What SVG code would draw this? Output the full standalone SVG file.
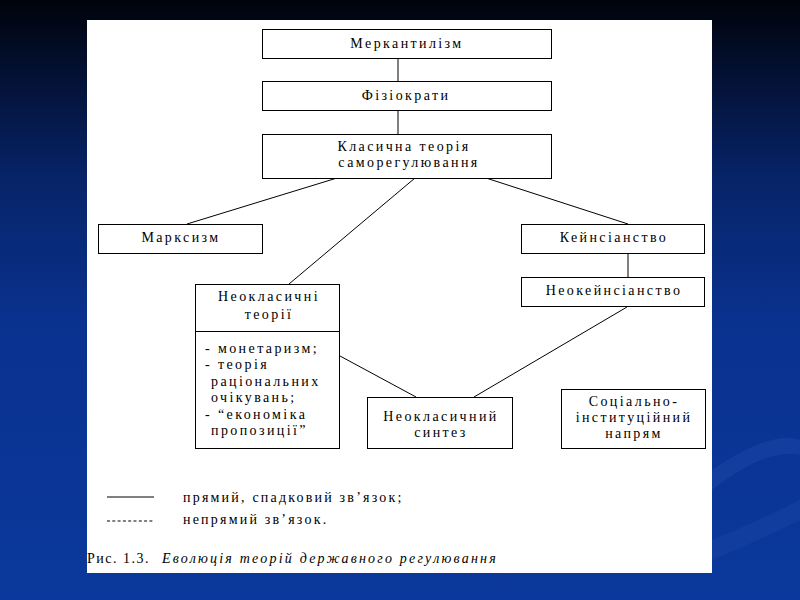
<svg xmlns="http://www.w3.org/2000/svg" width="800" height="600" viewBox="0 0 800 600">
<defs>
<linearGradient id="bg" x1="0" y1="0" x2="0" y2="1">
<stop offset="0" stop-color="#01030b"/>
<stop offset="0.1" stop-color="#030e2c"/>
<stop offset="0.3" stop-color="#072469"/>
<stop offset="0.55" stop-color="#0a3290"/>
<stop offset="1" stop-color="#0b389c"/>
</linearGradient>
<style>
.box{fill:#fff;stroke:#000;stroke-width:1}
.ln{stroke:#000;stroke-width:1;fill:none}
.t{font-family:"Liberation Serif","Times New Roman",serif;font-size:14px;letter-spacing:2.4px;fill:#000}
.c{text-anchor:middle}
.it{font-style:italic}
</style>
</defs>
<rect x="0" y="0" width="800" height="600" fill="url(#bg)"/>
<path d="M712 470 Q770 430 800 440 L800 455 Q765 448 712 490 Z" fill="#1f4aa8" opacity="0.45"/>
<path d="M712 540 Q760 520 800 500 L800 520 Q760 540 712 560 Z" fill="#1f4aa8" opacity="0.35"/>
<rect x="87" y="20" width="625" height="553" fill="#fff"/>

<g id="connectors">
<line class="ln" x1="398" y1="58" x2="398" y2="81"/>
<line class="ln" x1="398" y1="110" x2="398" y2="134"/>
<line class="ln" x1="337" y1="178" x2="187" y2="224"/>
<line class="ln" x1="415" y1="178" x2="289" y2="284"/>
<line class="ln" x1="486" y1="178" x2="628" y2="224"/>
<line class="ln" x1="628" y1="254" x2="628" y2="277"/>
<line class="ln" x1="627" y1="307" x2="474" y2="397"/>
<line class="ln" x1="340" y1="356" x2="416" y2="397"/>
</g>

<g id="merkantylizm">
<rect class="box" x="262.5" y="29.5" width="289" height="29"/>
<text class="t c" x="407" y="48">Меркантилізм</text>
</g>
<g id="fiziokraty">
<rect class="box" x="262.5" y="81.5" width="289" height="29"/>
<text class="t c" x="406" y="100">Фізіократи</text>
</g>
<g id="klasychna">
<rect class="box" x="262.5" y="134.5" width="289" height="44"/>
<text class="t c" x="404" y="151">Класична теорія</text>
<text class="t c" x="409" y="167">саморегулювання</text>
</g>
<g id="marksyzm">
<rect class="box" x="98.5" y="224.5" width="164" height="29"/>
<text class="t c" x="181" y="242">Марксизм</text>
</g>
<g id="keinsianstvo">
<rect class="box" x="521.5" y="224.5" width="183" height="29"/>
<text class="t c" x="614" y="242">Кейнсіанство</text>
</g>
<g id="neokeinsianstvo">
<rect class="box" x="521.5" y="277.5" width="183" height="29"/>
<text class="t c" x="614" y="295">Неокейнсіанство</text>
</g>
<g id="neoklasychni">
<rect class="box" x="195.5" y="284.5" width="144" height="164"/>
<line class="ln" x1="195.5" y1="331.5" x2="339.5" y2="331.5"/>
<text class="t c" x="269" y="301">Неокласичні</text>
<text class="t c" x="269" y="319">теорії</text>
<text class="t" x="205" y="353">- монетаризм;</text>
<text class="t" x="205" y="369">- теорія</text>
<text class="t" x="211" y="386">раціональних</text>
<text class="t" x="211" y="402">очікувань;</text>
<text class="t" x="205" y="419">- “економіка</text>
<text class="t" x="211" y="435">пропозиції”</text>
</g>
<g id="sintez">
<rect class="box" x="367.5" y="397.5" width="145" height="51"/>
<text class="t c" x="441" y="421">Неокласичний</text>
<text class="t c" x="441" y="437">синтез</text>
</g>
<g id="socialno">
<rect class="box" x="561.5" y="389.5" width="144" height="59"/>
<text class="t c" x="634" y="406">Соціально-</text>
<text class="t c" x="634" y="422">інституційний</text>
<text class="t c" x="634" y="438">напрям</text>
</g>

<g id="legend">
<line class="ln" x1="107" y1="497" x2="154" y2="497"/>
<line class="ln" x1="107" y1="521" x2="154" y2="521" stroke-dasharray="3,2.3"/>
<text class="t" x="183" y="502" style="letter-spacing:2.2px">прямий, спадковий зв’язок;</text>
<text class="t" x="183" y="524" style="letter-spacing:2.2px">непрямий зв’язок.</text>
</g>
<g id="caption">
<text class="t" x="87" y="563" style="letter-spacing:1.5px">Рис. 1.3.</text>
<text class="t it" x="162" y="563" style="letter-spacing:2.2px">Еволюція теорій державного регулювання</text>
</g>
</svg>
